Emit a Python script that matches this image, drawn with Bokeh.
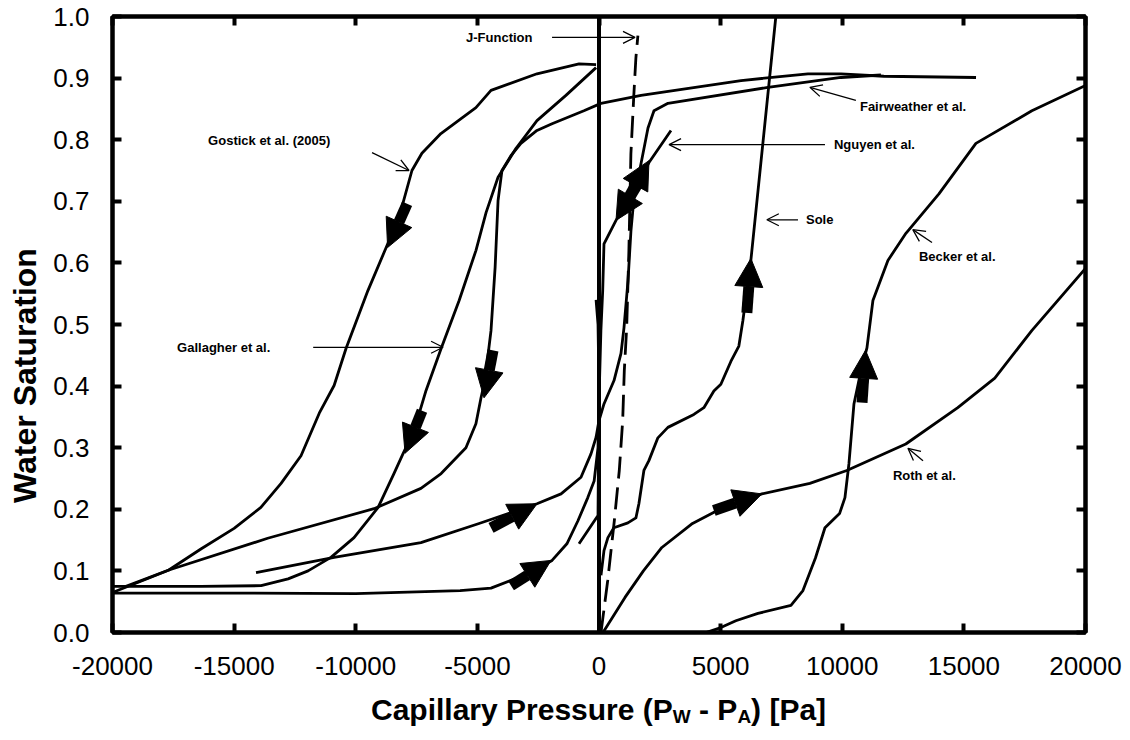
import math
from bokeh.plotting import figure
from bokeh.models import (Arrow, NormalHead, OpenHead, Label, Span, LinearAxis,
                          FixedTicker)
from bokeh.layouts import column, row
from bokeh.embed import file_html
from bokeh.resources import INLINE

# ---------------- data ----------------
gostick_x = [-20000, -17700, -16350, -15000, -13900, -13070, -12250, -11500, -10890,
             -10400, -9500, -8750, -8220, -7690, -7280, -6500, -5060, -4440, -2550, -820, -120]
gostick_y = [0.065, 0.101, 0.136, 0.169, 0.203, 0.242, 0.287, 0.356, 0.401,
             0.461, 0.555, 0.625, 0.674, 0.750, 0.778, 0.810, 0.852, 0.880, 0.907, 0.923, 0.922]

gallagher_x = [-120, -1360, -2550, -3410, -4150, -4640, -5060, -5750, -6490, -7110,
               -7600, -8060, -8430, -9080, -10070, -11020, -11960, -12780, -13890, -16360, -20000]
gallagher_y = [0.917, 0.872, 0.831, 0.786, 0.739, 0.682, 0.620, 0.539, 0.461, 0.393,
               0.328, 0.290, 0.258, 0.203, 0.154, 0.122, 0.100, 0.087, 0.076, 0.075, 0.075]

fairweather_x = [-19500, -17710, -13620, -9250, -7320, -6490, -5470, -5060, -4850, -4690,
                 -4440, -4270, -4150, -3990, -3620, -3210, -2550, -1930, -620, 80,
                 1730, 5840, 8590, 9950, 11710, 15500]
fairweather_y = [0.074, 0.101, 0.153, 0.201, 0.234, 0.258, 0.300, 0.339, 0.381, 0.409,
                 0.490, 0.593, 0.701, 0.750, 0.774, 0.794, 0.815, 0.826, 0.847, 0.859,
                 0.872, 0.896, 0.907, 0.907, 0.903, 0.901]

lower_x = [-20000, -15000, -10000, -5710, -4440, -2880, -1930, -1320, -870, -460,
           -200, -40, 0, -40, -120]
lower_y = [0.064, 0.064, 0.063, 0.068, 0.072, 0.096, 0.117, 0.144, 0.181, 0.219,
           0.246, 0.300, 0.400, 0.500, 0.540]

imbib_x = [-14100, -10890, -7320, -4930, -2550, -1560, -740, -330, -120, 0, 205, 617,
           904, 1028, 1192, 1315, 1439, 1726, 2014, 2260, 2836, 6946, 9946, 11590]
imbib_y = [0.097, 0.122, 0.146, 0.177, 0.209, 0.225, 0.252, 0.290, 0.317, 0.344, 0.371,
           0.409, 0.453, 0.495, 0.571, 0.653, 0.706, 0.761, 0.819, 0.847, 0.859, 0.885,
           0.901, 0.905]

nguyen_x = [2959, 2055, 1315, 699, 205, 152, 78, 0, -41, -822]
nguyen_y = [0.815, 0.763, 0.709, 0.669, 0.631, 0.555, 0.490, 0.377, 0.190, 0.144]

jfunc_x = [82, 357, 629, 834, 974, 1040, 1138, 1229, 1311, 1434, 1517, 1599]
jfunc_y = [0.0, 0.084, 0.181, 0.263, 0.344, 0.425, 0.495, 0.620, 0.777, 0.874, 0.933, 0.969]

sole_x = [82, 205, 366, 612, 1188, 1517, 1640, 1846, 2051, 2421, 2832, 3900, 4311,
          4722, 5010, 5421, 5750, 5914, 6079, 6243, 7270]
sole_y = [0.093, 0.133, 0.154, 0.170, 0.178, 0.186, 0.209, 0.263, 0.279, 0.316, 0.333,
          0.354, 0.365, 0.392, 0.403, 0.440, 0.465, 0.506, 0.555, 0.604, 1.0]

becker_x = [4200, 4397, 5010, 5626, 6535, 7891, 8384, 8898, 9289, 9889, 10111, 10275,
            10481, 10769, 11015, 11261, 11877, 12617, 13974, 15495, 17796, 20000]
becker_y = [0.0, 0.0, 0.008, 0.019, 0.031, 0.044, 0.068, 0.121, 0.170, 0.193, 0.219,
            0.274, 0.371, 0.425, 0.462, 0.539, 0.604, 0.648, 0.712, 0.794, 0.847, 0.888]

roth_x = [164, 1069, 1825, 2585, 3806, 4866, 6695, 8668, 10188, 12613, 14750, 16271,
          17791, 20000]
roth_y = [0.0, 0.057, 0.100, 0.138, 0.176, 0.198, 0.225, 0.242, 0.263, 0.306, 0.365,
          0.413, 0.490, 0.591]

# direction arrows (start -> end)
dir_x0 = [-7890, -7275, -4357, -3617, -4439, 1151, 1726, 6079, 10813, 4722]
dir_y0 = [0.696, 0.360, 0.458, 0.076, 0.170, 0.701, 0.737, 0.519, 0.373, 0.198]
dir_x1 = [-8690, -7973, -4727, -1973, -2548, 2055, 699, 6243, 10957, 6695]
dir_y1 = [0.625, 0.291, 0.381, 0.117, 0.209, 0.766, 0.669, 0.607, 0.458, 0.225]

# curve labels
lab_text = ["Gostick et al. (2005)", "Gallagher et al.", "J-Function", "Fairweather et al.",
            "Nguyen et al.", "Sole", "Becker et al.", "Roth et al."]
lab_x = [-16070, -17344, -5466, 10727, 9659, 8508, 13152, 12083]
lab_y = [0.799, 0.463, 0.966, 0.854, 0.792, 0.670, 0.610, 0.255]
# leader arrows (start -> tip)
lead_x0 = [-9330, -11750, -1930, 10560, 9290, 8180, 13690, 13320]
lead_y0 = [0.779, 0.463, 0.966, 0.864, 0.792, 0.670, 0.633, 0.279]
lead_x1 = [-7810, -6410, 1480, 8670, 2880, 6900, 12900, 12700]
lead_y1 = [0.750, 0.463, 0.966, 0.885, 0.792, 0.670, 0.654, 0.299]

x_ticks = [-20000, -15000, -10000, -5000, 0, 5000, 10000, 15000, 20000]
x_tick_labels = ["-20000", "-15000", "-10000", "-5000", "0", "5000", "10000", "15000", "20000"]
y_ticks = [0.0, 0.1, 0.2, 0.3, 0.4, 0.5, 0.6, 0.7, 0.8, 0.9, 1.0]
y_tick_labels = ["0.0", "0.1", "0.2", "0.3", "0.4", "0.5", "0.6", "0.7", "0.8", "0.9", "1.0"]
y_title = "Water Saturation"
x_title_parts = ["Capillary Pressure (P", "W", "- P", "A", ") [Pa]"]
x_title_sub = [False, True, False, True, False]

# ---------------- layout sizes ----------------
FONT = "Liberation Sans"
W_LEFT = 44          # strip holding the y title
H_BOTTOM = 52        # strip holding the x title
W_MAIN = 1130 - W_LEFT
H_MAIN = 740 - H_BOTTOM

# ---------------- main figure ----------------
p = figure(width=W_MAIN, height=H_MAIN, x_range=(-20000, 20000), y_range=(0, 1),
           output_backend="svg", toolbar_location=None,
           min_border_left=112 - W_LEFT, min_border_right=45, min_border_top=16,
           min_border_bottom=H_MAIN - 632)
p.background_fill_color = "white"
p.border_fill_color = "white"
p.outline_line_color = "black"
p.outline_line_width = 4
p.grid.visible = False

for ax in (p.xaxis[0], p.yaxis[0]):
    ax.major_tick_in = 9
    ax.major_tick_out = 0
    ax.minor_tick_line_color = None
    ax.major_tick_line_width = 4
    ax.axis_line_width = 4
    ax.major_label_text_font = FONT
    ax.major_label_text_font_size = "26px"
    ax.major_label_text_color = "black"

p.xaxis[0].ticker = FixedTicker(ticks=x_ticks)
p.xaxis[0].major_label_overrides = dict(zip(x_ticks, x_tick_labels))
p.xaxis[0].major_label_standoff = 24
p.yaxis[0].ticker = FixedTicker(ticks=y_ticks)
p.yaxis[0].major_label_overrides = {t: l for t, l in zip(y_ticks, y_tick_labels)}
p.yaxis[0].major_label_standoff = 23

top_ax = LinearAxis(ticker=FixedTicker(ticks=x_ticks), major_tick_in=9, major_tick_out=0,
                    major_tick_line_width=4, minor_tick_line_color=None, axis_line_width=4,
                    major_label_overrides={t: "" for t in x_ticks}, major_label_standoff=0)
right_ax = LinearAxis(ticker=FixedTicker(ticks=y_ticks), major_tick_in=9, major_tick_out=0,
                      major_tick_line_width=4, minor_tick_line_color=None, axis_line_width=4,
                      major_label_overrides={t: "" for t in y_ticks}, major_label_standoff=0)
p.add_layout(top_ax, "above")
p.add_layout(right_ax, "right")

# x = 0 line
p.add_layout(Span(location=0, dimension="height", line_color="black", line_width=4))

LW = 2.8
for xs, ys in [(gostick_x, gostick_y), (gallagher_x, gallagher_y),
               (fairweather_x, fairweather_y), (lower_x, lower_y), (imbib_x, imbib_y),
               (nguyen_x, nguyen_y), (sole_x, sole_y), (becker_x, becker_y),
               (roth_x, roth_y)]:
    p.line(xs, ys, line_color="black", line_width=LW, line_join="round")

p.line(jfunc_x, jfunc_y, line_color="black", line_width=LW, line_dash="22 9")

# block direction arrows
for x0, y0, x1, y1 in zip(dir_x0, dir_y0, dir_x1, dir_y1):
    p.add_layout(Arrow(end=NormalHead(size=28, fill_color="black", line_color="black",
                                      line_width=1),
                       x_start=x0, y_start=y0, x_end=x1, y_end=y1,
                       line_color="black", line_width=11))

# leader arrows
for x0, y0, x1, y1 in zip(lead_x0, lead_y0, lead_x1, lead_y1):
    p.add_layout(Arrow(end=OpenHead(size=12, line_color="black", line_width=1.3),
                       x_start=x0, y_start=y0, x_end=x1, y_end=y1,
                       line_color="black", line_width=1.3))

for t, x, y in zip(lab_text, lab_x, lab_y):
    p.add_layout(Label(x=x, y=y, text=t, text_font=FONT, text_font_size="13px",
                       text_font_style="bold", text_baseline="middle", text_align="left",
                       text_color="black"))


def strip(w, h):
    f = figure(width=w, height=h, x_range=(0, w), y_range=(0, h),
               output_backend="svg", toolbar_location=None,
               x_axis_location=None, y_axis_location=None,
               min_border=0, min_border_left=0, min_border_right=0,
               min_border_top=0, min_border_bottom=0)
    f.outline_line_color = None
    f.grid.visible = False
    f.background_fill_color = "white"
    f.border_fill_color = "white"
    return f


# y title strip
p_left = strip(W_LEFT, H_MAIN)
p_left.add_layout(Label(x=24, y=H_MAIN - 401, angle=math.pi / 2, text=y_title,
                        text_font=FONT, text_font_size="32px", text_font_style="bold",
                        text_align="center", text_baseline="middle", text_color="black"))

# x title strip with subscripts
p_bottom = strip(1130, H_BOTTOM)
x_title_offs = [370.5, 672.3, 698.5, 736.9, 750.6]
for t, off, sub in zip(x_title_parts, x_title_offs, x_title_sub):
    p_bottom.add_layout(Label(x=off, y=24 if sub else 31, text=t, text_font=FONT,
                              text_font_size="19px" if sub else "30px",
                              text_font_style="bold", text_align="left",
                              text_baseline="alphabetic", text_color="black"))

layout = column(row(p_left, p), p_bottom, spacing=0)
open("out.html", "w").write(file_html(layout, INLINE))
